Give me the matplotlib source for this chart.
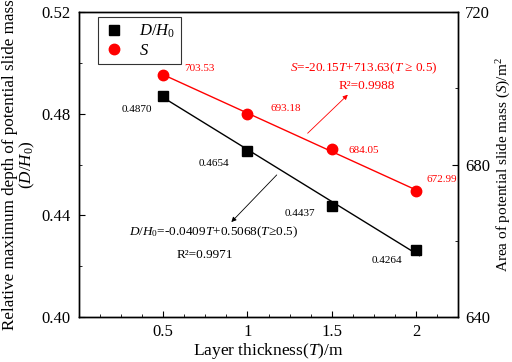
import matplotlib
matplotlib.use("Agg")
import matplotlib.pyplot as plt
import numpy as np
from matplotlib.ticker import MultipleLocator

plt.rcParams['font.family'] = ['Liberation Serif', 'DejaVu Serif']
plt.rcParams['mathtext.fontset'] = 'custom'
plt.rcParams['mathtext.rm'] = 'Liberation Serif'
plt.rcParams['mathtext.it'] = 'Liberation Serif:italic'
plt.rcParams['mathtext.bf'] = 'Liberation Serif:bold'

T = [0.5, 1.0, 1.5, 2.0]
D_H0 = [0.4870, 0.4654, 0.4437, 0.4264]
S = [703.53, 693.18, 684.05, 672.99]
D_fit = (-0.0409, 0.5068)
S_fit = (-20.15, 713.63)

fig = plt.figure(figsize=(5.12, 3.62), dpi=100)
ax = fig.add_axes([0.154, 0.124, 0.741, 0.843])
ax2 = ax.twinx()

tl = np.array([0.5, 2.02])
ax.plot(tl, D_fit[0] * tl + D_fit[1], color='black', lw=1.0, zorder=2)
l1, = ax.plot(T, D_H0, 's', color='black', ms=6.5, zorder=3, label=r'$D/H_0$')
ts = np.array([0.5, 2.0])
ax2.plot(ts, S_fit[0] * ts + S_fit[1], color='red', lw=1.0, zorder=2)
l2, = ax2.plot(T, S, 'o', color='red', ms=7.5, zorder=3, label=r'$S$')

ax.set_xlim(0, 2.25)
ax.set_ylim(0.40, 0.52)
ax2.set_ylim(640, 720)
ax.xaxis.set_major_locator(MultipleLocator(0.5))
ax.xaxis.set_minor_locator(MultipleLocator(0.125))
ax.yaxis.set_major_locator(MultipleLocator(0.04))
ax.yaxis.set_minor_locator(MultipleLocator(0.02))
ax2.yaxis.set_major_locator(MultipleLocator(40))
ax2.yaxis.set_minor_locator(MultipleLocator(20))
ax.set_xticks([0.5, 1, 1.5, 2])
ax.set_xticklabels(['0.5', '1', '1.5', '2'])
ax.set_yticks([0.40, 0.44, 0.48, 0.52])
ax.set_yticklabels(['0.40', '0.44', '0.48', '0.52'])

for a in (ax, ax2):
    a.tick_params(which='both', direction='in', labelsize=12, top=False)
    a.tick_params(which='major', length=4)
    a.tick_params(which='minor', length=2.5)
    for sp in a.spines.values():
        sp.set_linewidth(1.0)
ax.tick_params(axis='y', pad=6)
ax.tick_params(axis='x', pad=5)
ax2.tick_params(axis='y', pad=5)

ax.set_xlabel(r'Layer thickness($T$)/m', fontsize=12.5, labelpad=1)
ax.set_ylabel('Relative maximum depth of potential slide mass\n' + r'($D/H_0$)', fontsize=12.3, labelpad=3, linespacing=1.0)
ax2.set_ylabel(r'Area of potential slide mass ($S$)/m$^2$', fontsize=11, labelpad=3)

# value labels
d_lab_pos = [(0.345, 0.4818), (0.80, 0.4606), (1.31, 0.4409), (1.83, 0.4224)]
for (x, y), v in zip(d_lab_pos, D_H0):
    ax.text(x, y, f'{v:.4f}', fontsize=8, ha='center', va='center', color='black')
s_lab_pos = [(0.715, 705.05), (1.226, 694.56), (1.69, 683.8), (2.15, 676.2)]
for (x, y), v in zip(s_lab_pos, S):
    ax2.text(x, y, f'{v:.2f}', fontsize=8, ha='center', va='center', color='red')

# equations
ax2.text(1.69, 705.3, r'$S$=-20.15$T$+713.63($T$ ≥ 0.5)', fontsize=9.5, color='red', ha='center', va='center')
ax2.text(1.71, 700.6, 'R²=0.9988', fontsize=9.5, color='red', ha='center', va='center')
ax.text(0.80, 0.4334, r'$D/H_0$=-0.0409$T$+0.5068($T$≥0.5)', fontsize=9.5, color='black', ha='center', va='center')
ax.text(0.75, 0.4244, 'R²=0.9971', fontsize=9.5, color='black', ha='center', va='center')

# arrows
ax2.annotate('', xy=(1.607, 698.8), xytext=(1.345, 687.7),
             arrowprops=dict(arrowstyle='-|>', color='red', lw=0.6, mutation_scale=7))
ax.annotate('', xy=(0.893, 0.4366), xytext=(1.185, 0.4567),
            arrowprops=dict(arrowstyle='-|>', color='black', lw=0.6, mutation_scale=7))

leg = ax.legend(handles=[l1, l2], loc='upper left', bbox_to_anchor=(0.05, 0.984),
                borderaxespad=0.0, fontsize=12, frameon=True, fancybox=False, edgecolor='black',
                handletextpad=0.8, borderpad=0.35, labelspacing=0.15, handlelength=1.3)
leg.get_frame().set_linewidth(0.8)
leg.set_zorder(5)

fig.savefig('out.png', dpi=100)
